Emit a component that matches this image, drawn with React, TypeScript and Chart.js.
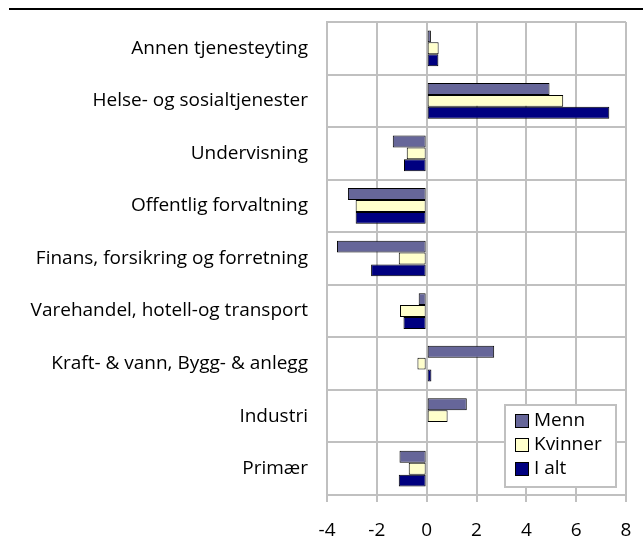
import React, { useEffect, useRef } from "react";
import { Chart, registerables } from "chart.js";

Chart.register(...registerables);

const categories = [
  "Annen tjenesteyting",
  "Helse- og sosialtjenester",
  "Undervisning",
  "Offentlig forvaltning",
  "Finans, forsikring og forretning",
  "Varehandel, hotell-og transport",
  "Kraft- & vann, Bygg- & anlegg",
  "Industri",
  "Primær",
];

const menn = [0.17, 4.93, -1.36, -3.16, -3.6, -0.32, 2.71, 1.61, -1.09];
const kvinner = [0.48, 5.48, -0.8, -2.85, -1.12, -1.07, -0.37, 0.84, -0.72];
const iAlt = [0.47, 7.33, -0.91, -2.85, -2.23, -0.93, 0.19, 0.0, -1.12];

const seriesNames = ["Menn", "Kvinner", "I alt"];
const seriesColors = ["#666699", "#ffffcc", "#000080"];
const xTicks = [-4, -2, 0, 2, 4, 6, 8];

const FONT = "'Open Sans', sans-serif";
const FONT_SIZE = 19;
const GRID = "#c0c0c0";

const decorPlugin = {
  id: "decor",
  afterDraw(chart: any) {
    const ctx = chart.ctx;
    const ca = chart.chartArea;
    ctx.save();
    // top rule
    ctx.fillStyle = "#000";
    ctx.fillRect(9, 8, 634, 2);
    // legend box
    const bx = ca.right - 121;
    const by = ca.bottom - 90;
    const bw = 111;
    const bh = 82;
    ctx.fillStyle = "#fff";
    ctx.fillRect(bx, by, bw, bh);
    ctx.strokeStyle = GRID;
    ctx.lineWidth = 2;
    ctx.strokeRect(bx, by, bw, bh);
    ctx.font = `${FONT_SIZE}px ${FONT}`;
    ctx.textBaseline = "middle";
    chart.data.datasets.forEach((ds: any, i: number) => {
      const cy = by + 16 + i * 24;
      ctx.fillStyle = ds.backgroundColor;
      ctx.fillRect(bx + 10.5, cy - 6.5, 13, 13);
      ctx.strokeStyle = "#000";
      ctx.lineWidth = 1;
      ctx.strokeRect(bx + 10.5, cy - 6.5, 13, 13);
      ctx.fillStyle = "#000";
      ctx.fillText(ds.label, bx + 29, cy);
    });
    ctx.restore();
  },
};

export default function App() {
  const ref = useRef<HTMLCanvasElement | null>(null);
  useEffect(() => {
    if (!ref.current) return;
    const values = [menn, kvinner, iAlt];
    const chart = new Chart(ref.current, {
      type: "bar",
      data: {
        labels: categories,
        datasets: seriesNames.map((name, i) => ({
          label: name,
          data: values[i],
          backgroundColor: seriesColors[i],
          borderColor: "#000",
          borderWidth: 1,
          borderSkipped: false,
          categoryPercentage: 0.68,
          barPercentage: 1,
        })),
      },
      options: {
        indexAxis: "y",
        animation: false,
        responsive: false,
        maintainAspectRatio: false,
        layout: { padding: { top: 22, right: 18, left: 0, bottom: 0 } },
        plugins: {
          legend: { display: false },
          tooltip: { enabled: false },
        },
        scales: {
          x: {
            type: "linear",
            min: -4,
            max: 8,
            afterBuildTicks: (scale: any) => {
              scale.ticks = xTicks.map((v) => ({ value: v }));
            },
            afterFit: (scale: any) => {
              scale.height = 55;
              scale.paddingLeft = 0;
              scale.paddingRight = 0;
            },
            grid: {
              color: GRID,
              lineWidth: 2,
              tickLength: 7,
              drawTicks: true,
            },
            border: { color: GRID, width: 2 },
            ticks: {
              color: "#000",
              font: { family: FONT, size: FONT_SIZE },
              padding: 17,
              maxRotation: 0,
            },
          },
          y: {
            type: "category",
            afterFit: (scale: any) => {
              scale.width = 327;
              scale.paddingTop = 0;
              scale.paddingBottom = 0;
            },
            grid: {
              color: GRID,
              lineWidth: 2,
              offset: true,
              drawTicks: false,
            },
            border: { color: GRID, width: 2 },
            ticks: {
              color: "#000",
              font: { family: FONT, size: FONT_SIZE },
              padding: 19,
            },
          },
        },
      },
      plugins: [decorPlugin],
    } as any);
    return () => chart.destroy();
  }, []);
  return (
    <div style={{ position: "absolute", left: 0, top: 0, width: 644, height: 550 }}>
      <canvas ref={ref} width={644} height={550} style={{ width: 644, height: 550 }} />
    </div>
  );
}
